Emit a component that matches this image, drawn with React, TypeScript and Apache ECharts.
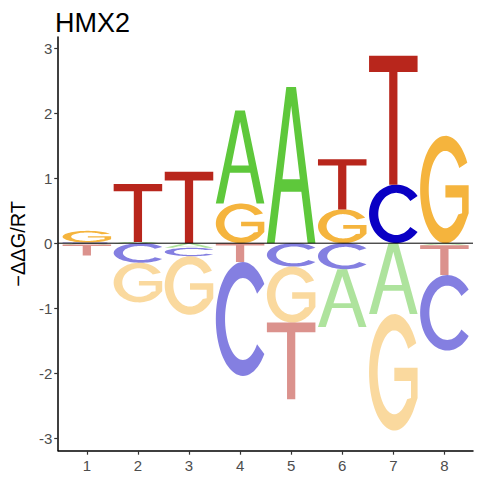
import React, { useEffect, useRef } from "react";
import * as echarts from "echarts";

// ---- data ----
const POSITIONS = [1, 2, 3, 4, 5, 6, 7, 8];
const LETTERS = ["A", "C", "G", "T"];
const VAL_A = [-0.02, 0.02, -0.07, 1.43, 2.4, -0.89, -1.09, -0.03];
const VAL_C = [0.01, -0.3, -0.13, -1.75, -0.36, -0.4, 0.9, -1.16];
const VAL_G = [0.18, -0.61, -0.9, 0.61, -0.86, 0.52, -1.79, 1.65];
const VAL_T = [-0.17, 0.89, 1.1, -0.29, -1.18, 0.77, 1.98, -0.46];
const Y_TICKS = [-3, -2, -1, 0, 1, 2, 3];
const X_TICKS = [1, 2, 3, 4, 5, 6, 7, 8];
const TITLE = "HMX2";
const Y_NAME = "\u2212\u0394\u0394G/RT";

// ---- style ----
const COLORS: Record<string, [number, number, number]> = {
  A: [94, 200, 59],
  C: [10, 0, 196],
  G: [245, 180, 61],
  T: [184, 38, 28],
};
const FONT = "'Liberation Sans', Arial, Helvetica, sans-serif";
const X_MIN = 0.44;
const X_MAX = 8.56;
const Y_MIN = -3.19;
const Y_MAX = 3.17;
const HALF = 0.475;

// ---- glyph outlines (unit box, y down) ----
function arcPts(cx: number, cy: number, rx: number, ry: number, a0: number, a1: number, n: number) {
  const pts: string[] = [];
  for (let i = 0; i <= n; i++) {
    const a = ((a0 + ((a1 - a0) * i) / n) * Math.PI) / 180;
    pts.push((cx + rx * Math.cos(a)).toFixed(2) + " " + (cy + ry * Math.sin(a)).toFixed(2));
  }
  return pts;
}

const GLYPH_A =
  "M0 100 L40 0 L60 0 L100 100 L84 100 L71 67 L29 67 L16 100 Z M32 59 L68 59 L50 12 Z";
const GLYPH_T =
  "M0 0 L100 0 L100 12.5 L58.5 12.5 L58.5 100 L41.5 100 L41.5 12.5 L0 12.5 Z";
const GLYPH_C = (() => {
  const outer = arcPts(50, 50, 50, 50, -38, -322, 60);
  const inner = arcPts(50, 50, 33, 36, -322, -38, 60);
  return "M" + outer.join(" L") + " L" + inner.join(" L") + " Z";
})();
const GLYPH_G = (() => {
  const outer = arcPts(50, 50, 50, 50, -30, -320, 60);
  const inner = arcPts(50, 50, 33, 36, -320, -34, 60);
  return (
    "M" +
    outer.join(" L") +
    " L96 72 L96 46 L50 46 L50 57.5 L83 57.5 L83 72 L" +
    inner.join(" L") +
    " Z"
  );
})();
const GLYPHS: Record<string, string> = { A: GLYPH_A, C: GLYPH_C, G: GLYPH_G, T: GLYPH_T };

function buildStacks() {
  const vals: Record<string, number[]> = { A: VAL_A, C: VAL_C, G: VAL_G, T: VAL_T };
  const items: number[][] = [];
  POSITIONS.forEach((pos, i) => {
    const entries = LETTERS.map((l, li) => ({ li, v: vals[l][i] }));
    const pos_ = entries.filter((e) => e.v > 0).sort((a, b) => a.v - b.v);
    const neg_ = entries.filter((e) => e.v < 0).sort((a, b) => b.v - a.v);
    let acc = 0;
    pos_.forEach((e) => {
      items.push([pos, acc, acc + e.v, e.li, 0]);
      acc += e.v;
    });
    acc = 0;
    neg_.forEach((e) => {
      items.push([pos, acc + e.v, acc, e.li, 1]);
      acc += e.v;
    });
  });
  return items;
}

export default function App() {
  const ref = useRef<HTMLDivElement>(null);
  useEffect(() => {
    if (!ref.current) return;
    const chart = echarts.init(ref.current, undefined, { renderer: "svg" });
    const data = buildStacks();
    chart.setOption({
      animation: false,
      backgroundColor: "#fff",
      title: {
        text: TITLE,
        left: 50,
        top: 4,
        textStyle: { fontSize: 27, fontWeight: "normal", color: "#000", fontFamily: FONT },
      },
      grid: { left: 51, top: 37, width: 422, height: 413.7 },
      xAxis: {
        type: "value",
        min: X_MIN,
        max: X_MAX,
        axisLine: { show: true, onZero: false, lineStyle: { color: "#000", width: 1.5 } },
        axisTick: { show: true, customValues: X_TICKS, length: 4, lineStyle: { color: "#333", width: 1.2 } },
        axisLabel: { customValues: X_TICKS, color: "#4D4D4D", fontSize: 15, margin: 7, fontFamily: FONT },
        splitLine: { show: false },
      },
      yAxis: {
        type: "value",
        min: Y_MIN,
        max: Y_MAX,
        name: Y_NAME,
        nameLocation: "middle",
        nameRotate: 90,
        nameGap: 22,
        nameTextStyle: { fontSize: 20, color: "#000", fontFamily: FONT },
        axisLine: { show: true, onZero: false, lineStyle: { color: "#000", width: 1.5 } },
        axisTick: { show: true, customValues: Y_TICKS, length: 4, lineStyle: { color: "#333", width: 1.2 } },
        axisLabel: { customValues: Y_TICKS, color: "#4D4D4D", fontSize: 15, margin: 6, fontFamily: FONT },
        splitLine: { show: false },
      },
      series: [
        {
          type: "custom",
          data,
          encode: { x: 0, y: [1, 2] },
          renderItem: (_params: any, api: any) => {
            const x = api.value(0);
            const y0 = api.value(1);
            const y1 = api.value(2);
            const letter = LETTERS[api.value(3)];
            const neg = api.value(4) === 1;
            const tl = api.coord([x - HALF, y1]);
            const br = api.coord([x + HALF, y0]);
            const c = COLORS[letter];
            return {
              type: "path",
              shape: {
                pathData: GLYPHS[letter],
                x: tl[0],
                y: tl[1],
                width: br[0] - tl[0],
                height: Math.max(br[1] - tl[1], 0.01),
                layout: "cover",
              },
              style: { fill: `rgba(${c[0]},${c[1]},${c[2]},${neg ? 0.5 : 1})` },
            };
          },
          z: 2,
        },
        {
          type: "line",
          data: [
            [X_MIN, 0],
            [X_MAX, 0],
          ],
          symbol: "none",
          lineStyle: { color: "#000", width: 1 },
          z: 5,
        },
      ],
    });
    return () => chart.dispose();
  }, []);
  return <div ref={ref} style={{ position: "fixed", left: 0, top: 0, width: 480, height: 480 }} />;
}
